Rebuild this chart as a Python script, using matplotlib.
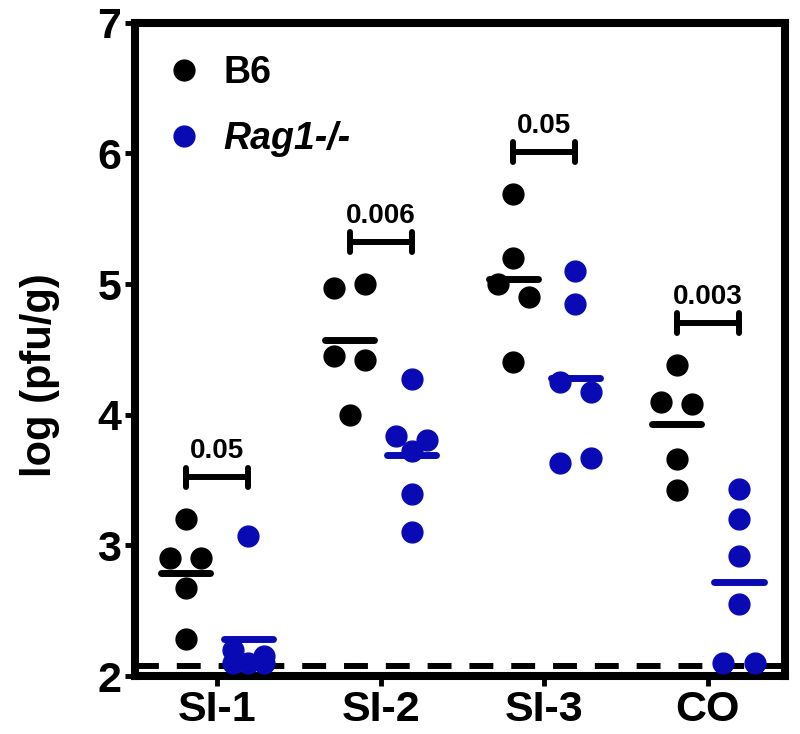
import matplotlib
matplotlib.use("Agg")
import matplotlib.pyplot as plt
from matplotlib.lines import Line2D
import numpy as np

plt.rcParams['font.family'] = ['Liberation Sans', 'DejaVu Sans']
plt.rcParams['font.weight'] = 'bold'

# ---------------- data ----------------
categories = ["SI-1", "SI-2", "SI-3", "CO"]
series_names = ["B6", "Rag1-/-"]
b6_values = [
    [3.2, 2.9, 2.9, 2.67, 2.28],
    [4.97, 5.0, 4.45, 4.42, 4.0],
    [5.69, 5.2, 5.0, 4.9, 4.4],
    [4.38, 4.1, 4.08, 3.66, 3.42],
]
rag_values = [
    [3.07, 2.2, 2.15, 2.1, 2.1, 2.1],
    [4.27, 3.84, 3.81, 3.72, 3.39, 3.10],
    [5.1, 4.85, 4.25, 4.17, 3.63, 3.67],
    [3.43, 3.2, 2.92, 2.55, 2.1, 2.1],
]
p_values = ["0.05", "0.006", "0.05", "0.003"]
detection_limit = 2.08
y_ticks = [2, 3, 4, 5, 6, 7]

colors = ["#000000", "#0a0ab4"]

# ---------------- layout helpers ----------------
def swarm_offsets(vals, row_h=0.15, max_row=2, spacing=0.19):
    """Prism-like row placement: near-equal values are placed side by side."""
    vals = np.asarray(vals, dtype=float)
    order = np.argsort(-vals, kind="stable")
    rows = []
    for idx in order:
        if rows and len(rows[-1]) < max_row and vals[rows[-1][0]] - vals[idx] < row_h:
            rows[-1].append(idx)
        else:
            rows.append([idx])
    offs = np.zeros(len(vals))
    for r in rows:
        r = sorted(r)
        n = len(r)
        for k, idx in enumerate(r):
            offs[idx] = (k - (n - 1) / 2) * spacing
    return offs

fig = plt.figure(figsize=(8.0, 7.34), dpi=100)
ax = fig.add_axes([0.169, 0.079, 0.812, 0.890])

col_shift = 0.19
mean_half = 0.15
ms = 15

for i, cat in enumerate(categories):
    for j, (vals, c) in enumerate(((b6_values[i], colors[0]), (rag_values[i], colors[1]))):
        cx = i + (-col_shift if j == 0 else col_shift)
        offs = swarm_offsets(vals)
        ax.plot(cx + offs, vals, 'o', color=c, ms=ms, mec=c, zorder=4, clip_on=False)
        m = np.mean(vals)
        ax.plot([cx - mean_half, cx + mean_half], [m, m], color=c, lw=5,
                solid_capstyle='round', zorder=5)
    # significance bracket
    top = max(max(b6_values[i]), max(rag_values[i])) + 0.32
    x0, x1 = i - col_shift, i + col_shift
    ax.plot([x0, x1], [top, top], color='black', lw=4.3, solid_capstyle='butt', zorder=5)
    for xx in (x0, x1):
        ax.plot([xx, xx], [top - 0.075, top + 0.075], color='black', lw=4.3,
                solid_capstyle='round', zorder=5)
    ax.text(i, top + 0.1, p_values[i], ha='center', va='bottom',
            fontsize=20, fontweight='bold')

ax.axhline(detection_limit, color='black', lw=4.3, ls=(0, (4.0, 3.0)), zorder=3)

ax.set_xlim(-0.5, 3.47)
ax.set_ylim(2, 7)
ax.set_xticks(range(len(categories)))
ax.set_xticklabels(categories, fontsize=31, fontweight='bold')
ax.set_yticks(y_ticks)
ax.set_yticklabels([str(t) for t in y_ticks], fontsize=31, fontweight='bold')
ax.tick_params(axis='both', direction='out', length=7, width=3.5, pad=3)
for sp in ax.spines.values():
    sp.set_linewidth(5.8)
ax.set_ylabel("log (pfu/g)", fontsize=30, fontweight='bold')
ax.yaxis.set_label_coords(-0.115, 0.46)

handles = [Line2D([], [], ls='none', marker='o', color=colors[0], ms=15),
           Line2D([], [], ls='none', marker='o', color=colors[1], ms=15)]
leg = ax.legend(handles, series_names, loc='upper left', frameon=False,
                bbox_to_anchor=(-0.008, 1.0),
                prop={'size': 27, 'weight': 'bold'}, handletextpad=0.45,
                labelspacing=0.8, borderaxespad=0.45, handlelength=1.2)
leg.get_texts()[1].set_style('italic')

fig.savefig("out.png", dpi=100)
